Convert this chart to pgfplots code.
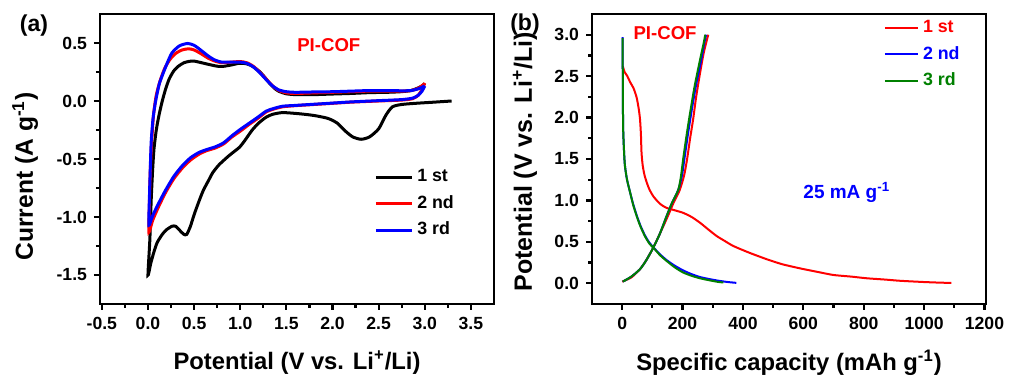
\documentclass[border=0pt]{standalone}
\usepackage{pgfplots}
\pgfplotsset{compat=1.18}
\usepackage{fontspec}
\setmainfont{Liberation Sans}
\definecolor{dgreen}{RGB}{0,128,0}
\pgfplotsset{
  common/.style={
    scale only axis,
    width=197pt, height=145pt,
    axis line style={line width=1.4pt},
    tick style={line width=1.1pt, black},
    major tick length=3pt, minor tick length=2pt,
    tick align=outside,
    xtick pos=bottom, ytick pos=left,
    xticklabel={\textbf{\pgfmathprintnumber[assume math mode=true]{\tick}}},
    yticklabel={\textbf{\pgfmathprintnumber[assume math mode=true]{\tick}}},
    tick label style={font=\bfseries\fontsize{8.8}{10}\selectfont},
    xlabel style={font=\bfseries\fontsize{11.9}{14}\selectfont},
    legend cell align=left,
    legend style={draw=none, fill=none, font=\bfseries\fontsize{8.9}{10}\selectfont,
      row sep=1.3pt, inner sep=1pt},
  },
}
\begin{document}
\begin{tikzpicture}
\useasboundingbox (0,0) rectangle (505.5pt,189pt);
% ---------------- (a) ----------------
\begin{axis}[common,
  at={(50pt,37pt)}, anchor=south west,
  xmin=-0.52, xmax=3.75, ymin=-1.75, ymax=0.75,
  xtick={-0.5,0,0.5,1,1.5,2,2.5,3,3.5},
  ytick={-1.5,-1,-0.5,0,0.5},
  minor x tick num=1, minor y tick num=1,
  xticklabel style={/pgf/number format/.cd,fixed,fixed zerofill,precision=1},
  yticklabel style={/pgf/number format/.cd,fixed,fixed zerofill,precision=1},
  xlabel={Potential (V vs. Li\textsuperscript{+}/Li)},
  ylabel={Current (A g\textsuperscript{-1})},
  xlabel style={at={(axis description cs:0.5,-0.203)}, anchor=center},
  ylabel style={at={(axis description cs:-0.19,0.44)}, anchor=center, font=\bfseries\fontsize{12.3}{14}\selectfont},
  legend image code/.code={\draw[#1] (0pt,0pt) -- (18pt,0pt);},
  legend style={at={(axis description cs:0.69,0.485)}, anchor=north west},
]
\addplot[black, line width=1.5pt, smooth, tension=0.4] coordinates {
(3.29,0.0) (3.1,-0.01) (2.9,-0.02) (2.75,-0.03) (2.65,-0.05) (2.58,-0.12) (2.5,-0.24) (2.4,-0.31) (2.31,-0.33) (2.22,-0.31) (2.14,-0.26) (2.05,-0.19) (1.95,-0.15) (1.8,-0.125) (1.64,-0.11) (1.46,-0.10) (1.35,-0.115) (1.28,-0.14) (1.2,-0.19) (1.13,-0.25) (1.05,-0.34) (0.99,-0.40) (0.88,-0.47) (0.77,-0.55) (0.7,-0.62) (0.66,-0.68) (0.6,-0.77) (0.55,-0.87) (0.5,-0.98) (0.46,-1.08) (0.42,-1.15) (0.39,-1.15) (0.35,-1.12) (0.3,-1.08) (0.26,-1.08) (0.2,-1.11) (0.155,-1.15) (0.1,-1.22) (0.065,-1.30) (0.03,-1.40) (0.0,-1.50)
(0.02,-1.2) (0.035,-0.85) (0.05,-0.6) (0.065,-0.415) (0.09,-0.25) (0.12,-0.12) (0.155,0.0) (0.19,0.10) (0.23,0.19) (0.28,0.26) (0.33,0.30) (0.39,0.33) (0.45,0.342) (0.5,0.344) (0.58,0.33) (0.66,0.315) (0.75,0.30) (0.81,0.298) (0.9,0.31) (0.99,0.325) (1.06,0.322) (1.12,0.305) (1.2,0.26) (1.26,0.21) (1.31,0.16) (1.37,0.11) (1.42,0.083) (1.5,0.062) (1.6,0.055) (1.8,0.055) (2.0,0.06) (2.2,0.065) (2.4,0.072) (2.6,0.075) (2.74,0.08) (2.85,0.09) (2.92,0.11) (2.97,0.13) (3.0,0.15)
};
\addlegendentry{1 st}
\addplot[red, line width=1.5pt, smooth, tension=0.4] coordinates {
(3.0,0.155) (2.97,0.10) (2.93,0.05) (2.87,0.02) (2.75,0.008) (2.5,0.0) (2.2,-0.01) (2.0,-0.02) (1.8,-0.03) (1.6,-0.04) (1.46,-0.05) (1.36,-0.07) (1.28,-0.095) (1.19,-0.15) (1.1,-0.2) (1.0,-0.26) (0.91,-0.31) (0.82,-0.37) (0.73,-0.405) (0.63,-0.43) (0.55,-0.46) (0.46,-0.51) (0.37,-0.58) (0.28,-0.67) (0.19,-0.79) (0.11,-0.92) (0.05,-1.03) (0.01,-1.13)
(0.015,-0.9) (0.025,-0.6) (0.04,-0.35) (0.06,-0.12) (0.09,0.05) (0.13,0.17) (0.18,0.28) (0.24,0.36) (0.3,0.41) (0.37,0.44) (0.44,0.45) (0.5,0.44) (0.57,0.41) (0.65,0.37) (0.72,0.345) (0.8,0.33) (0.9,0.335) (1.0,0.34) (1.07,0.33) (1.14,0.30) (1.21,0.25) (1.28,0.19) (1.35,0.13) (1.42,0.09) (1.5,0.07) (1.6,0.065) (1.8,0.07) (2.0,0.075) (2.2,0.08) (2.4,0.085) (2.6,0.085) (2.75,0.085) (2.85,0.09) (2.93,0.11) (3.0,0.15)
};
\addlegendentry{2 nd}
\addplot[blue, line width=1.5pt, smooth, tension=0.4] coordinates {
(3.0,0.13) (2.97,0.085) (2.93,0.05) (2.87,0.025) (2.75,0.012) (2.5,0.003) (2.2,-0.008) (2.0,-0.018) (1.8,-0.028) (1.6,-0.038) (1.46,-0.045) (1.36,-0.065) (1.28,-0.088) (1.19,-0.14) (1.1,-0.19) (1.0,-0.245) (0.91,-0.30) (0.82,-0.36) (0.73,-0.395) (0.63,-0.42) (0.55,-0.445) (0.46,-0.49) (0.37,-0.56) (0.28,-0.65) (0.19,-0.77) (0.11,-0.89) (0.05,-0.99) (0.01,-1.07)
(0.015,-0.85) (0.025,-0.58) (0.035,-0.35) (0.055,-0.15) (0.083,0.0) (0.12,0.14) (0.155,0.22) (0.21,0.33) (0.26,0.415) (0.34,0.475) (0.43,0.496) (0.5,0.48) (0.57,0.44) (0.65,0.39) (0.72,0.355) (0.8,0.335) (0.9,0.335) (1.0,0.335) (1.07,0.325) (1.14,0.295) (1.21,0.245) (1.28,0.185) (1.35,0.13) (1.42,0.095) (1.5,0.08) (1.6,0.075) (1.8,0.078) (2.0,0.08) (2.2,0.085) (2.4,0.09) (2.6,0.09) (2.75,0.088) (2.85,0.09) (2.93,0.105) (3.0,0.13)
};
\addlegendentry{3 rd}
\node[red, font=\bfseries\fontsize{9.3}{11}\selectfont] at (axis cs:1.96,0.48) {PI-COF};
\end{axis}
\node[font=\bfseries\fontsize{11.5}{13}\selectfont] at (17pt,176pt) {(a)};
% ---------------- (b) ----------------
\begin{axis}[common,
  at={(296pt,37pt)}, anchor=south west,
  xmin=-100, xmax=1205, ymin=-0.25, ymax=3.25,
  xtick={0,200,...,1200},
  ytick={0,0.5,...,3},
  minor x tick num=1, minor y tick num=1,
  xticklabel style={/pgf/number format/.cd,fixed,precision=0,1000 sep={}},
  yticklabel style={/pgf/number format/.cd,fixed,fixed zerofill,precision=1},
  xlabel={Specific capacity (mAh g\textsuperscript{-1})},
  ylabel={Potential (V vs. Li\textsuperscript{+}/Li)},
  xlabel style={at={(axis description cs:0.5,-0.203)}, anchor=center},
  ylabel style={at={(axis description cs:-0.17,0.49)}, anchor=center, font=\bfseries\fontsize{12.5}{14}\selectfont},
  legend image code/.code={\draw[#1] (0pt,0pt) -- (16.5pt,0pt);},
  legend style={at={(axis description cs:0.735,1.0)}, anchor=north west},
]
\addplot[red, line width=1pt, smooth, tension=0.4] coordinates {
(2,2.62) (8,2.55) (17,2.5) (26,2.43) (38,2.35) (48,2.24) (55,2.1) (59,1.98) (62,1.8) (64,1.58) (68,1.42) (75,1.29) (88,1.15) (103,1.05) (125,0.96) (147,0.91) (175,0.88) (202,0.85) (230,0.8) (258,0.73) (285,0.65) (313,0.57) (340,0.51) (368,0.45) (420,0.37) (479,0.29) (530,0.23) (589,0.18) (650,0.135) (700,0.10) (760,0.08) (811,0.06) (870,0.045) (921,0.03) (1000,0.015) (1050,0.008) (1090,0.004)
};
\addlegendentry{\textcolor{red}{1 st}}
\addplot[red, line width=1pt, smooth, tension=0.4, forget plot] coordinates {
(0,0.02) (30,0.07) (59,0.17) (80,0.28) (103,0.43) (125,0.6) (150,0.8) (170,0.97) (190,1.12) (205,1.3) (215,1.5) (225,1.75) (235,1.98) (245,2.25) (258,2.54) (270,2.78) (285,3.0)
};
\addplot[blue, line width=1pt, smooth, tension=0.4] coordinates {
(1,2.97) (2,2.5) (3,1.9) (6,1.6) (9,1.42) (16,1.25) (26,1.10) (36,0.96) (48,0.82) (60,0.70) (75,0.58) (90,0.49) (108,0.415) (125,0.35) (147,0.28) (175,0.21) (202,0.155) (230,0.11) (258,0.075) (290,0.05) (320,0.03) (350,0.015) (378,0.005)
};
\addlegendentry{\textcolor{blue}{2 nd}}
\addplot[blue, line width=1pt, smooth, tension=0.4, forget plot] coordinates {
(2,0.02) (30,0.08) (59,0.17) (80,0.28) (103,0.43) (125,0.6) (147,0.81) (165,0.97) (186,1.13) (198,1.3) (206,1.5) (217,1.78) (229,2.06) (244,2.38) (262,2.7) (272,2.9) (278,3.0)
};
\addplot[dgreen, line width=1pt, smooth, tension=0.4] coordinates {
(1,2.96) (2,2.5) (3,1.9) (6,1.6) (9,1.42) (16,1.25) (26,1.10) (36,0.95) (48,0.81) (60,0.69) (75,0.57) (90,0.48) (108,0.41) (125,0.34) (147,0.27) (175,0.19) (202,0.13) (230,0.09) (258,0.06) (290,0.035) (320,0.015) (335,0.01)
};
\addlegendentry{\textcolor{dgreen}{3 rd}}
\addplot[dgreen, line width=1pt, smooth, tension=0.4, forget plot] coordinates {
(2,0.02) (30,0.08) (59,0.17) (80,0.28) (103,0.43) (125,0.6) (147,0.81) (165,0.97) (186,1.13) (195,1.3) (202,1.5) (213,1.78) (225,2.06) (240,2.38) (258,2.7) (270,2.9) (275,3.0)
};
\node[red, font=\bfseries\fontsize{9.3}{11}\selectfont] at (axis cs:142,3.02) {PI-COF};
\node[blue, font=\bfseries\fontsize{9.5}{11}\selectfont] at (axis cs:744,1.095) {25 mA g\textsuperscript{-1}};
\end{axis}
\node[font=\bfseries\fontsize{11.5}{13}\selectfont] at (262.5pt,176.5pt) {(b)};
\end{tikzpicture}
\end{document}
